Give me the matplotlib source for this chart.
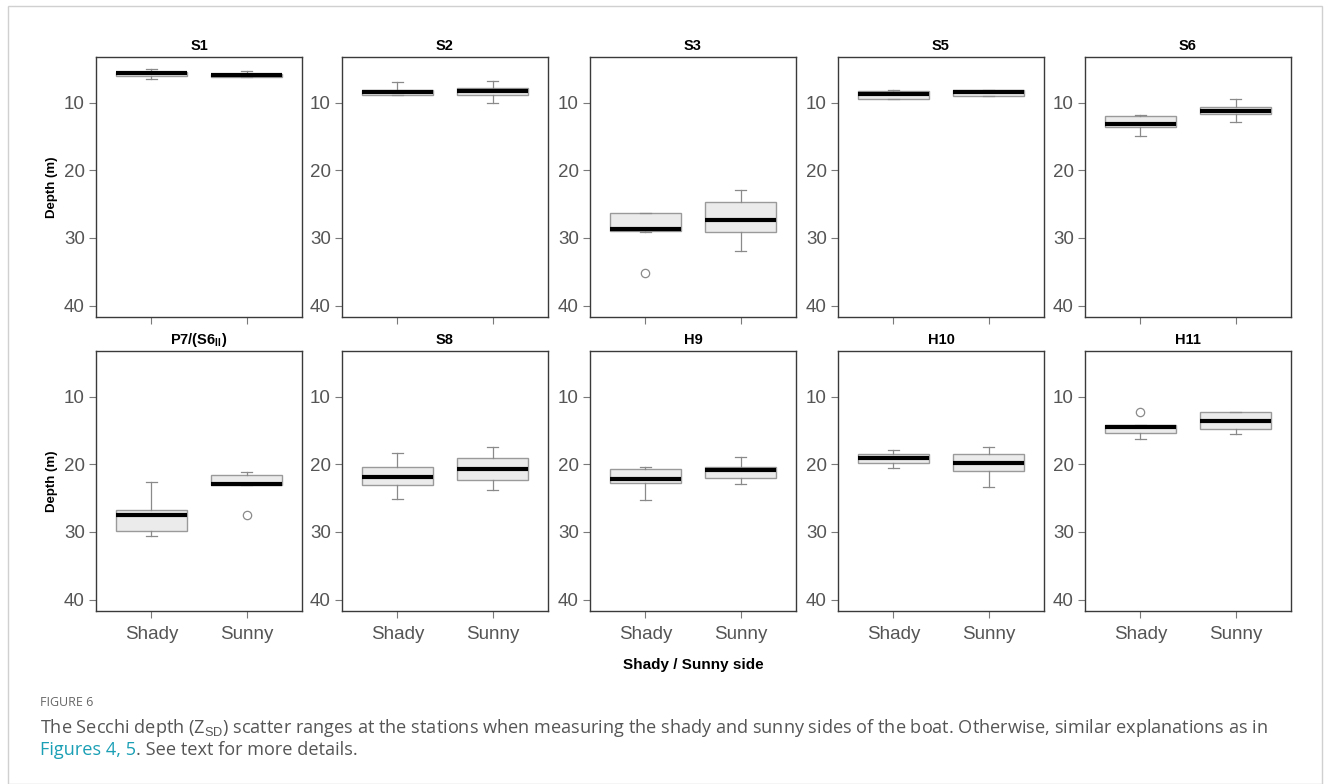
import matplotlib
matplotlib.use('Agg')
import matplotlib.pyplot as plt
from matplotlib.patches import Rectangle

plt.rcParams['font.family'] = ['Liberation Sans', 'DejaVu Sans']
plt.rcParams['mathtext.fontset'] = 'custom'
plt.rcParams['mathtext.rm'] = 'Liberation Sans'
plt.rcParams['mathtext.bf'] = 'Liberation Sans:bold'

# Secchi depth (m) per station, shady and sunny side of the boat
stations = ['S1', 'S2', 'S3', 'S5', 'S6',
            r'P7/(S6$_{\mathbf{II}}$)', 'S8', 'H9', 'H10', 'H11']
sides = ['Shady', 'Sunny']

med_shady = [5.6, 8.4, 28.6, 8.65, 13.05, 27.5, 21.8, 22.15, 19.1, 14.45]
q1_shady = [5.45, 8.1, 26.35, 8.25, 11.95, 26.7, 20.35, 20.6, 18.5, 14.2]
q3_shady = [6.05, 8.9, 28.9, 9.35, 13.5, 29.8, 23.1, 22.8, 19.75, 15.4]
lo_shady = [4.95, 6.9, 26.25, 8.05, 11.75, 22.6, 18.3, 20.45, 17.8, 14.2]
hi_shady = [6.45, 8.9, 29.1, 9.35, 14.9, 30.6, 25.1, 25.3, 20.5, 16.2]
out_shady = [[], [], [35.15], [], [], [], [], [], [], [12.2]]

med_sunny = [5.9, 8.3, 27.3, 8.45, 11.25, 22.9, 20.7, 20.8, 19.8, 13.5]
q1_sunny = [5.7, 7.8, 24.6, 8.05, 10.6, 21.5, 19.0, 20.4, 18.5, 12.2]
q3_sunny = [6.15, 8.9, 29.1, 9.0, 11.7, 23.0, 22.25, 21.95, 20.9, 14.7]
lo_sunny = [5.2, 6.75, 22.95, 8.05, 9.45, 21.1, 17.4, 18.9, 17.4, 12.2]
hi_sunny = [6.15, 10.05, 32.0, 9.0, 12.85, 23.0, 23.8, 22.85, 23.3, 15.5]
out_sunny = [[], [], [], [], [], [27.5], [], [], [], []]

y_ticks = [10, 20, 30, 40]

W, H = 1330, 784
fig = plt.figure(figsize=(W / 100, H / 100), dpi=100)

# thin frame round the figure
fig.patches.append(Rectangle((8 / W, 0), 1314 / W, 1 - 6 / H, transform=fig.transFigure,
                             fill=False, edgecolor='#d0d0d0', linewidth=1))

lefts = [96, 342, 590, 838, 1085]
tops = [57, 351]
pw, ph = 206, 260
tick_col = '#555555'


def stat(i, med, q1, q3, lo, hi, out):
    return {'med': med[i], 'q1': q1[i], 'q3': q3[i],
            'whislo': lo[i], 'whishi': hi[i], 'fliers': out[i]}


for i, name in enumerate(stations):
    row, col = divmod(i, 5)
    ax = fig.add_axes([lefts[col] / W, 1 - (tops[row] + ph) / H, pw / W, ph / H])
    stats = [stat(i, med_shady, q1_shady, q3_shady, lo_shady, hi_shady, out_shady),
             stat(i, med_sunny, q1_sunny, q3_sunny, lo_sunny, hi_sunny, out_sunny)]
    ax.bxp(stats, positions=[1, 2], widths=0.75, patch_artist=True, capwidths=0.12,
           boxprops=dict(facecolor='#ebebeb', edgecolor='#9a9a9a', linewidth=1),
           medianprops=dict(color='black', linewidth=3, solid_capstyle='butt'),
           whiskerprops=dict(color='#8a8a8a', linewidth=0.9),
           capprops=dict(color='#8a8a8a', linewidth=0.9),
           flierprops=dict(marker='o', markerfacecolor='none', markeredgecolor='#8a8a8a',
                           markersize=6, markeredgewidth=0.9))
    ax.set_xlim(0.42, 2.58)
    ax.set_ylim(41.7, 3.2)
    ax.set_yticks(y_ticks)
    ax.set_xticks([1, 2])
    if row == 1:
        ax.set_xticklabels(sides)
    else:
        ax.set_xticklabels([])
    ax.tick_params(axis='both', colors='#7a7a7a', labelcolor=tick_col, labelsize=13.5,
                   length=5, width=0.8, pad=3)
    ax.tick_params(axis='x', pad=6)
    for s in ax.spines.values():
        s.set_color('#3a3a3a')
        s.set_linewidth(1)
    ax.set_title(name, fontsize=10.5, fontweight='bold', pad=5)
    if col == 0:
        ax.set_ylabel('Depth (m)', fontsize=9.5, fontweight='bold', labelpad=4)

fig.text(693 / W, 1 - 665 / H, 'Shady / Sunny side', ha='center', va='center',
         fontsize=11, fontweight='bold')

cap_font = ['Open Sans', 'DejaVu Sans']
fig.text(40 / W, 1 - 703 / H, 'FIGURE 6', ha='left', va='center', fontsize=9,
         color='#666666', family=cap_font)
fig.text(40 / W, 1 - 728 / H,
         r'The Secchi depth (Z$_{\mathrm{SD}}$) scatter ranges at the stations when measuring '
         'the shady and sunny sides of the boat. Otherwise, similar explanations as in',
         ha='left', va='center', fontsize=13.1, color='#555555', family=cap_font)
t1 = fig.text(40 / W, 1 - 750 / H, 'Figures 4, 5', ha='left', va='center', fontsize=13.1,
              color='#1a9fb5', family=cap_font)
fig.canvas.draw()
bb = t1.get_window_extent()
fig.text(bb.x1 / W, 1 - 750 / H, '. See text for more details.', ha='left', va='center',
         fontsize=13.1, color='#555555', family=cap_font)

fig.savefig('out.png', dpi=100)
